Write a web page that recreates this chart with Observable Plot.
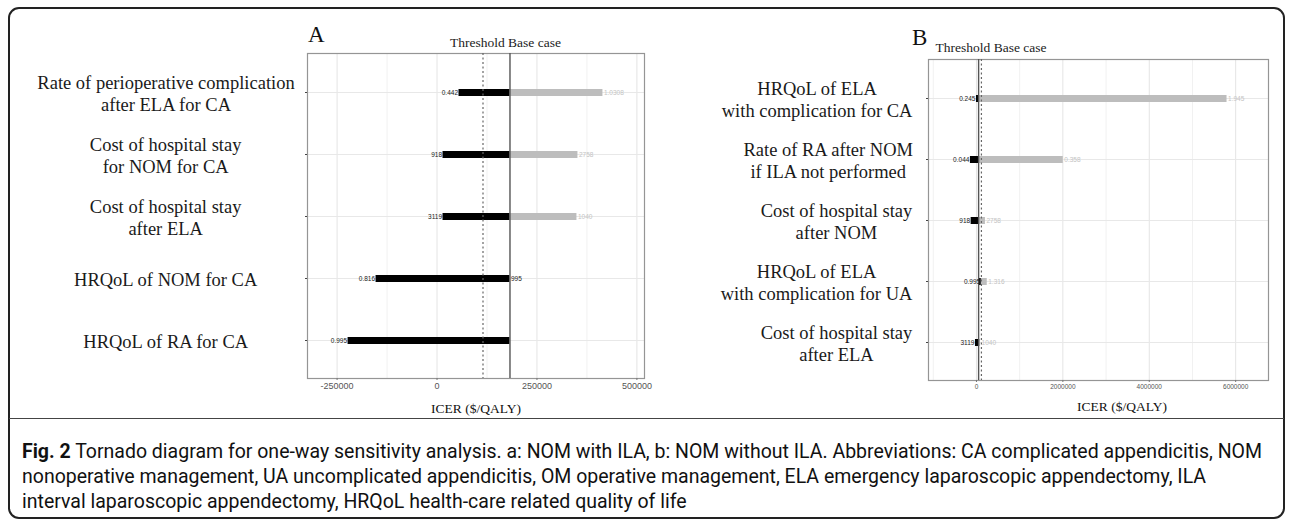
<!DOCTYPE html>
<html>
<head>
<meta charset="utf-8">
<script src="https://cdn.jsdelivr.net/npm/d3@7"></script>
<script src="https://cdn.jsdelivr.net/npm/@observablehq/plot@0.6"></script>
<style>
  html, body { margin: 0; padding: 0; background: #fff; }
  #page { position: relative; width: 1292px; height: 521px; overflow: hidden; background: #fff; }
  #border { position: absolute; left: 8px; top: 7px; width: 1277px; height: 512px; border: 2px solid #222; border-radius: 11px; box-sizing: border-box; }
  #divider { position: absolute; left: 9px; top: 418px; width: 1275px; height: 0; border-top: 1px solid #444; }
  .panel { position: absolute; top: 0; }
  .letter { position: absolute; font-family: "Liberation Serif", "Times New Roman", serif; font-size: 23px; line-height: 1; color: #111; }
  .xtitle { position: absolute; font-family: "Liberation Serif", "Times New Roman", serif; font-size: 13.5px; line-height: 1; color: #111; transform: translateX(-50%); white-space: nowrap; }
  #caption { position: absolute; left: 22px; top: 439px; font-family: "Liberation Sans Narrow", "Arial Narrow", "Roboto", sans-serif; font-size: 19.5px; color: #111; }
  #caption .line { display: block; white-space: nowrap; height: 25px; line-height: 25px; transform-origin: 0 50%; width: max-content; }
</style>
</head>
<body>
<div id="page">
  <div id="border"></div>
  <div id="divider"></div>
  <div id="panelA" class="panel" style="left:0px"></div>
  <div id="panelB" class="panel" style="left:690px"></div>
  <div class="letter" style="left:308px; top:23px">A</div>
  <div class="letter" style="left:912px; top:26px">B</div>
  <div class="xtitle" style="left:476px; top:402px">ICER ($/QALY)</div>
  <div class="xtitle" style="left:1122px; top:400px">ICER ($/QALY)</div>
  <div id="caption">
    <span class="line"><b>Fig. 2</b> Tornado diagram for one-way sensitivity analysis. a: NOM with ILA, b: NOM without ILA. Abbreviations: CA complicated appendicitis, NOM</span>
    <span class="line">nonoperative management, UA uncomplicated appendicitis, OM operative management, ELA emergency laparoscopic appendectomy, ILA</span>
    <span class="line">interval laparoscopic appendectomy, HRQoL health-care related quality of life</span>
  </div>
</div>
<script>
// ---------- Panel A data (NOM with ILA) ----------
const paramsA = [
  "Rate of perioperative complication\nafter ELA for CA",
  "Cost of hospital stay\nfor NOM for CA",
  "Cost of hospital stay\nafter ELA",
  "HRQoL of NOM for CA",
  "HRQoL of RA for CA"
];
const lowA = [55000, 15000, 15000, -152500, -222500];
const highA = [415000, 352500, 350000, 182500, 182500];
const lowLabelA = ["0.442", "918", "3119", "0.816", "0.995"];
const highLabelA = ["1.0308", "2758", "1040", "995", ""];
const baseA = 182500;
const thresholdA = 115000;
const ticksA = [-250000, 0, 250000, 500000];
const domainA = [-324000, 519000];

// ---------- Panel B data (NOM without ILA) ----------
const paramsB = [
  "HRQoL of ELA\nwith complication for CA",
  "Rate of RA after NOM\nif ILA not performed",
  "Cost of hospital stay\nafter NOM",
  "HRQoL of ELA\nwith complication for UA",
  "Cost of hospital stay\nafter ELA"
];
const lowB = [0, -140000, -123000, 110000, -23000];
const highB = [5800000, 2010000, 208000, 250000, 95000];
const lowLabelB = ["0.245", "0.044", "918", "0.995", "3119"];
const highLabelB = ["1.945", "0.358", "2758", "1.316", "1040"];
const baseB = 50000;
const thresholdB = 115000;
const ticksB = [0, 2000000, 4000000, 6000000];
const domainB = [-1110000, 6760000];

const annotation = "Threshold Base case";
const serif = "'Liberation Serif', 'Times New Roman', serif";
const sans = "'Liberation Sans', Arial, sans-serif";

function rowsOf(params, low, high, lowLab, highLab) {
  return params.map((p, i) => ({param: p, low: low[i], high: high[i], lowLabel: lowLab[i], highLabel: highLab[i]}));
}
function minorOf(ticks, domain) {
  const step = ticks[1] - ticks[0];
  const out = [];
  for (const t of ticks) {
    for (const m of [t - step / 2, t + step / 2]) {
      if (m > domain[0] && m < domain[1] && !out.includes(m) && !ticks.includes(m)) out.push(m);
    }
  }
  return out;
}

function tornado({rows, params, base, threshold, ticks, domain, width, height, margins, tickFont, annDx, annDy}) {
  return Plot.plot({
    width, height,
    marginLeft: margins[3], marginRight: margins[1], marginTop: margins[0], marginBottom: margins[2],
    style: {fontFamily: sans, background: "transparent", overflow: "visible"},
    x: {domain},
    y: {type: "point", domain: params, padding: 0.6},
    marks: [
      Plot.gridX({ticks: minorOf(ticks, domain), stroke: "#f1f1f1", strokeOpacity: 1}),
      Plot.gridX({ticks, stroke: "#e4e4e4", strokeOpacity: 1}),
      Plot.gridY({stroke: "#e8e8e8", strokeOpacity: 1}),
      Plot.frame({stroke: "#959595", strokeWidth: 1.2}),
      Plot.ruleY(rows, {y: "param", x1: d => base, x2: "high", stroke: "#bdbdbd", strokeWidth: 7}),
      Plot.ruleY(rows, {y: "param", x1: d => base, x2: "low", stroke: "#000", strokeWidth: 7}),
      Plot.ruleX([base], {stroke: "#555", strokeWidth: 1.4}),
      Plot.ruleX([threshold], {stroke: "#666", strokeWidth: 1.2, strokeDasharray: "2,2.5"}),
      Plot.text(rows, {y: "param", x: "low", text: "lowLabel", textAnchor: "end", dx: -1, fontSize: 6.5, fill: "#222"}),
      Plot.text(rows, {y: "param", x: "high", text: "highLabel", textAnchor: "start", dx: 1, fontSize: 6.5,
        fill: d => d.high <= base ? "#222" : "#c4c4c4"}),
      Plot.text([annotation], {x: (threshold + base) / 2, frameAnchor: "top", lineAnchor: "bottom", dy: annDy, dx: annDx,
        fontFamily: serif, fontSize: 13.5, fill: "#222"}),
      Plot.axisY({tickSize: 2, tickPadding: 3, textAnchor: "middle", fontFamily: serif, fontSize: 18.5, fill: "#1a1a1a",
        lineHeight: 1.2, tickFormat: d => d, label: null, stroke: "#444"}),
      Plot.axisX({ticks, tickSize: 2, tickPadding: 2, fontSize: tickFont, fill: "#555", stroke: "#777",
        tickFormat: d => String(d), label: null})
    ]
  });
}

const svgA = tornado({
  rows: rowsOf(paramsA, lowA, highA, lowLabelA, highLabelA), params: paramsA,
  base: baseA, threshold: thresholdA, ticks: ticksA, domain: domainA,
  width: 690, height: 418, margins: [53, 46, 40, 307], tickFont: 9, annDx: 9, annDy: -7
});
const svgB = tornado({
  rows: rowsOf(paramsB, lowB, highB, lowLabelB, highLabelB), params: paramsB,
  base: baseB, threshold: thresholdB, ticks: ticksB, domain: domainB,
  width: 602, height: 418, margins: [59, 24, 38, 238], tickFont: 6.5, annDx: 11, annDy: -8
});
document.getElementById("panelA").appendChild(svgA);
document.getElementById("panelB").appendChild(svgB);

// Align multi-line category labels: panel A centred, panel B as right-aligned blocks
function alignLabels(svg, mode, target) {
  svg.querySelectorAll('g[aria-label="y-axis tick label"] text').forEach(t => {
    const r = t.getBoundingClientRect();
    const shift = mode === "center" ? target - (r.left + r.right) / 2 : target - r.right;
    const tr = t.getAttribute("transform") || "";
    t.setAttribute("transform", `translate(${shift},0) ${tr}`);
  });
}
alignLabels(svgA, "center", 166);
alignLabels(svgB, "right", 913);

// Fit caption lines to the reference width
const lines = document.querySelectorAll("#caption .line");
const w0 = lines[0].getBoundingClientRect().width;
const s = 1240 / w0;
lines.forEach(l => { l.style.transform = `scaleX(${s})`; });
</script>
</body>
</html>
